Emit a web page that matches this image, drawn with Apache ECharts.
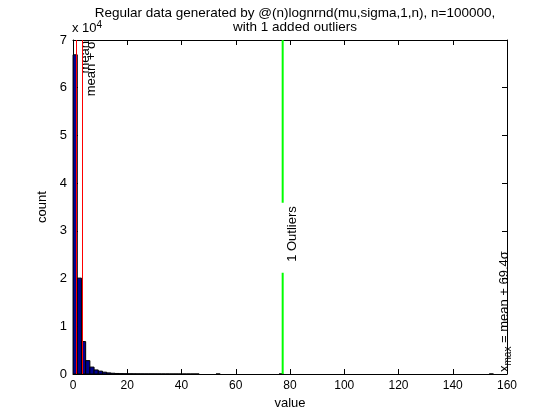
<!DOCTYPE html>
<html>
<head>
<meta charset="utf-8">
<script src="https://cdn.jsdelivr.net/npm/echarts/dist/echarts.min.js"></script>
<style>html,body{margin:0;padding:0;background:#fff;}#chart{width:560px;height:420px;}</style>
</head>
<body>
<div id="chart"></div>
<script>
// ---- data ----
const titleText = 'Regular data generated by @(n)lognrnd(mu,sigma,1,n), n=100000,\nwith 1 added outliers';
const binStart = 0.02;
const binWidth = 1.5498;
const binCounts = [
  66900, 20100, 6800, 2800, 1450, 850, 600, 380, 230, 160,
  110, 80, 60, 45, 35, 28, 22, 18, 14, 12,
  10, 8, 7, 6, 5, 4, 3, 3, 2, 1,
  0, 0, 0, 0, 1, 0, 0, 0, 0, 0,
  0, 0, 0, 0, 0, 0, 0, 0, 0, 1,
  0, 0, 0, 0, 0, 0, 0, 0, 0, 0,
  0, 0, 0, 0, 0, 0, 0, 0, 0, 0,
  0, 0, 0, 0, 0, 0, 0, 0, 0, 0,
  0, 0, 0, 0, 0, 0, 0, 0, 0, 0,
  0, 0, 0, 0, 0, 0, 0, 0, 0, 1
];
const xTicks = [0, 20, 40, 60, 80, 100, 120, 140, 160];
const yTicks = [0, 1, 2, 3, 4, 5, 6, 7];   // x 10^4
const yScale = 10000;
const statValues = [1.2, 3.45];
const statLabels = ['mean', 'mean + σ'];
const outlierValues = [77.3];
const outlierLabel = '1 Outliers';
const outlierLabelY = 21200;
const xmaxValue = 155;
const xmaxLabel = ['x', 'max', ' = mean + 69.4σ'];

// ---- build ----
const FONT = '"Liberation Sans", Arial, Helvetica, sans-serif';
const TXT = 13;
const binData = binCounts.map((c, i) => [binStart + i * binWidth, binStart + (i + 1) * binWidth, c]).filter(d => d[2] > 0);
const yMax = yTicks[yTicks.length - 1] * yScale;

const chart = echarts.init(document.getElementById('chart'), null, {renderer: 'canvas'});

const tickCommon = {show: true, inside: true, length: 5, lineStyle: {color: '#000', width: 1}};
const lineCommon = {show: true, onZero: false, lineStyle: {color: '#000', width: 1}};

chart.setOption({
  animation: false,
  backgroundColor: '#fff',
  title: {
    text: titleText,
    left: 290, top: 1, textAlign: 'center',
    textStyle: {fontFamily: FONT, fontSize: 13.5, fontWeight: 'normal', color: '#000', lineHeight: 14}
  },
  grid: {left: 73, right: 53, top: 40, bottom: 46, containLabel: false},
  xAxis: [{
    type: 'value', min: xTicks[0], max: xTicks[xTicks.length - 1], interval: xTicks[1] - xTicks[0],
    position: 'bottom',
    name: 'value', nameLocation: 'middle', nameGap: 22,
    nameTextStyle: {fontFamily: FONT, fontSize: TXT, color: '#000'},
    axisLine: lineCommon, axisTick: tickCommon,
    axisLabel: {fontFamily: FONT, fontSize: 12, color: '#000', margin: 6},
    splitLine: {show: false}
  }, {
    type: 'value', min: xTicks[0], max: xTicks[xTicks.length - 1], interval: xTicks[1] - xTicks[0],
    position: 'top',
    axisLine: lineCommon, axisTick: tickCommon, axisLabel: {show: false}, splitLine: {show: false}
  }],
  yAxis: [{
    type: 'value', min: 0, max: yMax, interval: yScale,
    position: 'left',
    name: 'count', nameLocation: 'middle', nameGap: 14,
    nameTextStyle: {fontFamily: FONT, fontSize: TXT, color: '#000'},
    axisLine: lineCommon, axisTick: tickCommon,
    axisLabel: {fontFamily: FONT, fontSize: 13, color: '#000', margin: 6, formatter: v => String(v / yScale)},
    splitLine: {show: false}
  }, {
    type: 'value', min: 0, max: yMax, interval: yScale,
    position: 'right',
    axisLine: lineCommon, axisTick: tickCommon, axisLabel: {show: false}, splitLine: {show: false}
  }],
  graphic: [{
    type: 'text', left: 72, top: 20,
    style: {
      text: 'x 10{s|4}', fill: '#000', fontFamily: FONT, fontSize: TXT,
      rich: {s: {fontSize: 10, fontFamily: FONT, fill: '#000', verticalAlign: 'top', padding: [0, 0, 6, 0]}}
    }
  }],
  series: [{
    type: 'custom',
    xAxisIndex: 0, yAxisIndex: 0,
    data: binData,
    encode: {x: [0, 1], y: 2},
    renderItem: function (params, api) {
      const p0 = api.coord([api.value(0), 0]);
      const p1 = api.coord([api.value(1), api.value(2)]);
      return {
        type: 'rect',
        shape: {x: p0[0], y: p1[1], width: p1[0] - p0[0], height: p0[1] - p1[1]},
        style: {fill: '#00008f', stroke: '#000', lineWidth: 1}
      };
    }
  }, {
    type: 'custom',
    xAxisIndex: 0, yAxisIndex: 0, clip: false,
    data: statValues.map((v, i) => [v, i]),
    encode: {x: 0},
    renderItem: function (params, api) {
      const x = api.value(0);
      const top = api.coord([x, yMax]);
      const bot = api.coord([x, 0]);
      const lx = Math.round(top[0]) + 0.5;
      return {
        type: 'group',
        children: [{
          type: 'line', shape: {x1: lx, y1: top[1], x2: lx, y2: bot[1]},
          style: {stroke: '#ff0000', lineWidth: 1}
        }, {
          type: 'text', x: lx + 2, y: top[1] + 1, rotation: Math.PI / 2,
          style: {text: statLabels[api.value(1)], fill: '#000', fontFamily: FONT, fontSize: TXT,
                  align: 'right', verticalAlign: 'top'}
        }]
      };
    }
  }, {
    type: 'custom',
    xAxisIndex: 0, yAxisIndex: 0, clip: false,
    data: outlierValues.map(v => [v, outlierLabelY]),
    encode: {x: 0, y: 1},
    renderItem: function (params, api) {
      const x = api.value(0);
      const top = api.coord([x, yMax]);
      const bot = api.coord([x, 0]);
      const anchor = api.coord([x, api.value(1)]);
      return {
        type: 'group',
        children: [{
          type: 'line', shape: {x1: top[0], y1: top[1], x2: top[0], y2: bot[1]},
          style: {stroke: '#00ff00', lineWidth: 2}
        }, {
          type: 'rect', shape: {x: top[0] - 2, y: anchor[1] - 70, width: 16, height: 70},
          style: {fill: '#fff'}
        }, {
          type: 'text', x: top[0] + 3, y: anchor[1] - 11, rotation: Math.PI / 2,
          style: {text: outlierLabel, fill: '#000', fontFamily: FONT, fontSize: TXT,
                  align: 'left', verticalAlign: 'top'}
        }]
      };
    }
  }, {
    type: 'custom',
    xAxisIndex: 0, yAxisIndex: 0, clip: false,
    data: [[xmaxValue, 0]],
    encode: {x: 0, y: 1},
    renderItem: function (params, api) {
      const p = api.coord([api.value(0), 0]);
      return {
        type: 'text', x: p[0] + 2, y: p[1] - 2, rotation: Math.PI / 2,
        style: {
          text: xmaxLabel[0] + '{sub|' + xmaxLabel[1] + '}' + xmaxLabel[2],
          fill: '#000', fontFamily: FONT, fontSize: TXT, align: 'left', verticalAlign: 'top',
          rich: {sub: {fontSize: 10, fontFamily: FONT, fill: '#000', padding: [8, 0, 0, 0]}}
        }
      };
    }
  }]
});
</script>
</body>
</html>
